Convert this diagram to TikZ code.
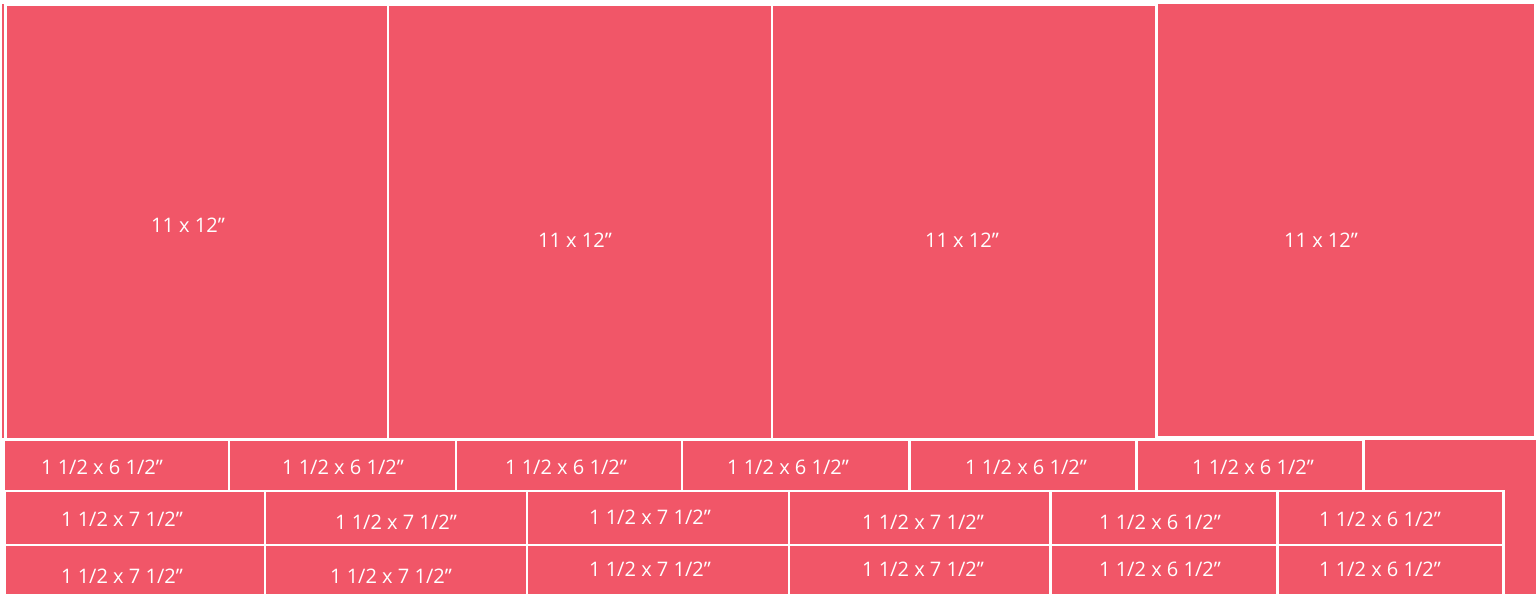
\documentclass[tikz,border=0pt]{standalone}
\usepackage{fontspec}
\setmainfont{Open Sans}
\usepackage{tikz}

\definecolor{quilt}{RGB}{241,86,104}
\tikzset{
  piece/.style={fill=quilt, draw=white, line width=1.7pt},
  size/.style={text=white, font=\fontsize{11.4}{13}\selectfont, inner sep=0pt}
}

\begin{document}
\begin{tikzpicture}[x=0.02cm, y=-0.02cm]
\useasboundingbox (0,0) rectangle (1536,594);
% thin strip on the left
\fill[quilt] (2,4) rectangle (4,438);
% top row: 11 x 12 squares
\draw[piece] (5.5,5) rectangle (388,439);
\draw[piece] (388,5) rectangle (772,439);
\draw[piece] (772,5) rectangle (1156,439);
\draw[piece] (1156,2.5) rectangle (1535,437.5);
% corner piece
\draw[piece] (1363,439) -- (1538,439) -- (1538,597) -- (1503,597) -- (1503,491) -- (1363,491) -- cycle;
% second row: 1 1/2 x 6 1/2
\foreach \a/\b in {4/229, 229/456, 456/682, 682/909, 909/1136, 1136/1363}
  \draw[piece] (\a,440) rectangle (\b,491);
% third and fourth rows
\foreach \a/\b in {5/265, 265/527, 527/789, 789/1050, 1050/1277, 1277/1503} {
  \draw[piece] (\a,491) rectangle (\b,545);
  \draw[piece] (\a,545) rectangle (\b,597);
}
% labels
\node[size] (sq1) at (188,225) {11 x 12”};
\node[size] (sq2) at (575,240) {11 x 12”};
\node[size] (sq3) at (962,240) {11 x 12”};
\node[size] (sq4) at (1321,240) {11 x 12”};
\foreach \x [count=\i] in {102, 343, 566, 788, 1026, 1253}
  \node[size] (b\i) at (\x,467) {1 1/2 x 6 1/2”};
\node[size] (c1) at (122,519) {1 1/2 x 7 1/2”};
\node[size] (c2) at (396,522) {1 1/2 x 7 1/2”};
\node[size] (c3) at (650,517) {1 1/2 x 7 1/2”};
\node[size] (c4) at (923,522) {1 1/2 x 7 1/2”};
\node[size] (c5) at (1160,522) {1 1/2 x 6 1/2”};
\node[size] (c6) at (1380,519) {1 1/2 x 6 1/2”};
\node[size] (d1) at (122,576) {1 1/2 x 7 1/2”};
\node[size] (d2) at (391,576) {1 1/2 x 7 1/2”};
\node[size] (d3) at (650,569) {1 1/2 x 7 1/2”};
\node[size] (d4) at (923,569) {1 1/2 x 7 1/2”};
\node[size] (d5) at (1160,569) {1 1/2 x 6 1/2”};
\node[size] (d6) at (1380,569) {1 1/2 x 6 1/2”};
\end{tikzpicture}
\end{document}
